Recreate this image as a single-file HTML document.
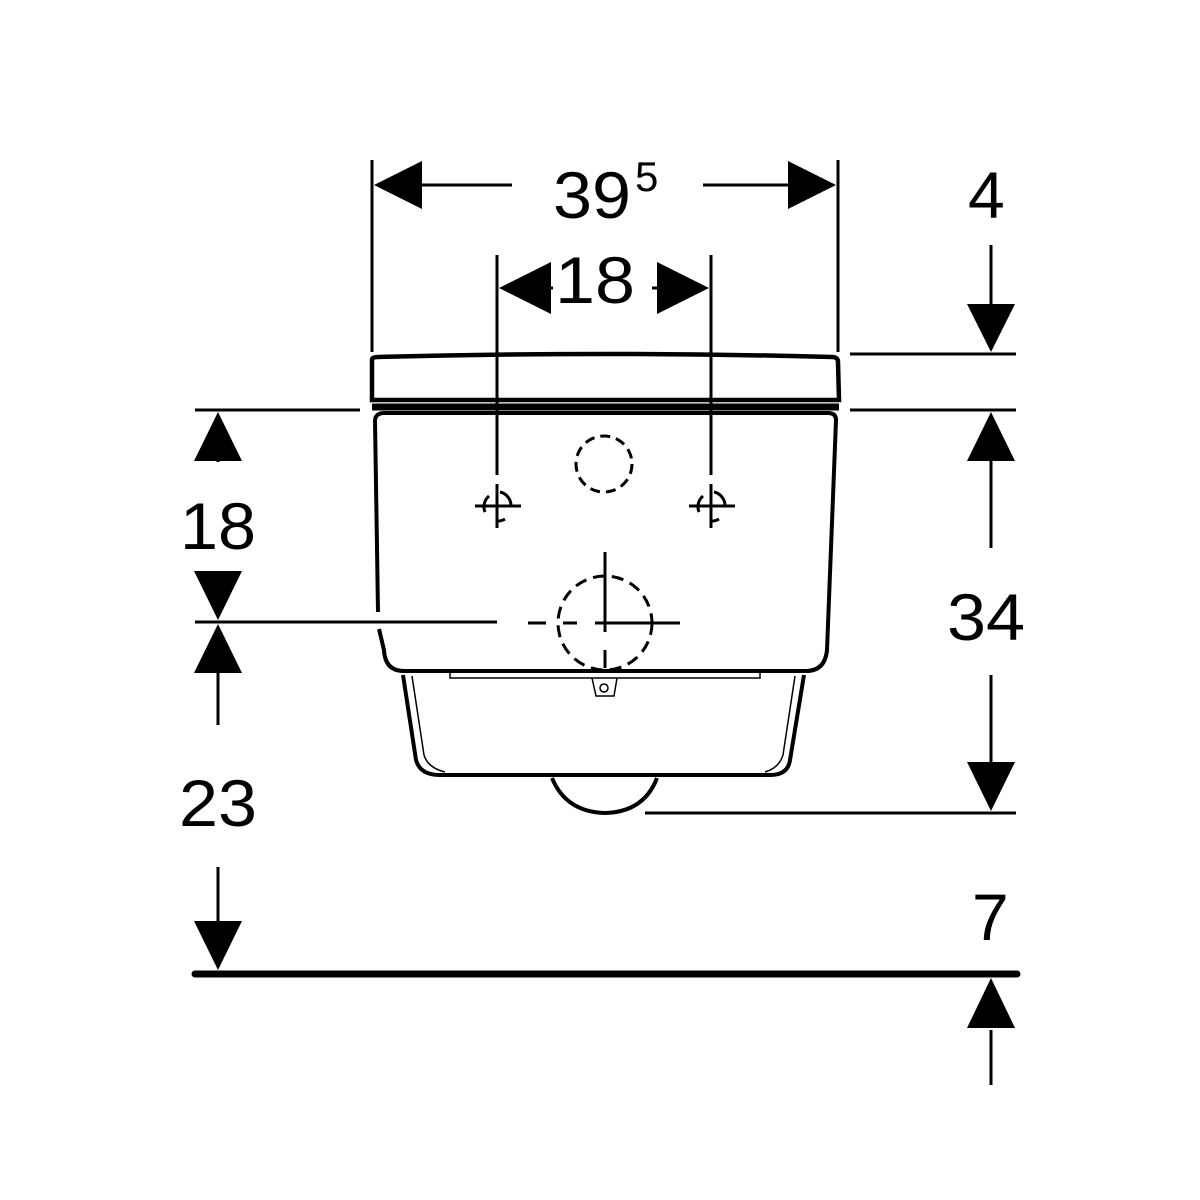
<!DOCTYPE html>
<html><head><meta charset="utf-8"><style>html,body{margin:0;padding:0;background:#fff}svg{display:block}</style></head>
<body>
<svg width="1200" height="1200" viewBox="0 0 1200 1200" xmlns="http://www.w3.org/2000/svg" font-family="Liberation Sans, Arial, sans-serif">
<rect width="1200" height="1200" fill="#fff"/>
<g stroke="#000" fill="none" stroke-width="3">
<line x1="372" y1="160" x2="372" y2="352"/>
<line x1="838" y1="160" x2="838" y2="352"/>
<line x1="497" y1="255" x2="497" y2="475"/>
<line x1="711" y1="255" x2="711" y2="475"/>
<line x1="400" y1="185" x2="512" y2="185"/>
<line x1="703" y1="185" x2="810" y2="185"/>
<line x1="540" y1="288" x2="553" y2="288"/>
<line x1="652" y1="288" x2="662" y2="288"/>
<line x1="850" y1="354" x2="1016" y2="354"/>
<line x1="850" y1="410" x2="1016" y2="410"/>
<line x1="991" y1="245" x2="991" y2="310"/>
<line x1="991" y1="455" x2="991" y2="548"/>
<line x1="991" y1="675" x2="991" y2="770"/>
<line x1="645" y1="813" x2="1016" y2="813"/>
<line x1="991" y1="1030" x2="991" y2="1085"/>
<line x1="195" y1="410" x2="360" y2="410"/>
<line x1="218" y1="455" x2="218" y2="462"/>
<line x1="218" y1="572" x2="218" y2="580"/>
<line x1="195" y1="622" x2="497" y2="622"/>
<line x1="218" y1="665" x2="218" y2="725"/>
<line x1="218" y1="867" x2="218" y2="930"/>
<line x1="528" y1="623" x2="546" y2="623"/>
<line x1="563" y1="623" x2="577" y2="623"/>
<line x1="595" y1="623" x2="680" y2="623"/>
<line x1="605" y1="552" x2="605" y2="632"/>
<line x1="605" y1="650" x2="605" y2="668"/>
<line x1="475" y1="506" x2="521" y2="506"/>
<line x1="497" y1="484" x2="497" y2="528"/>
<line x1="689" y1="506" x2="735" y2="506"/>
<line x1="711" y1="484" x2="711" y2="528"/>
<path d="M500 492 A14 14 0 0 1 511 506 M505 519 A14 14 0 0 1 496 521 M485 512 A14 14 0 0 1 489 496" />
<path d="M714 492 A14 14 0 0 1 725 506 M719 519 A14 14 0 0 1 710 521 M699 512 A14 14 0 0 1 703 496" />
<circle cx="604" cy="464" r="28" stroke-dasharray="10 6"/>
<circle cx="605" cy="623" r="47" stroke-dasharray="12 7"/>
</g>
<line x1="195" y1="974" x2="1017" y2="974" stroke="#000" stroke-width="7" stroke-linecap="round"/>
<g stroke="#000" fill="none">
<path d="M372 360 Q372 357 378 357 Q605 351 832 357 Q838 357 838 362 L839 400 L372 400 Z" stroke-width="4.5"/>
<line x1="372" y1="407" x2="839" y2="407" stroke-width="7"/>
<path d="M375 420 Q376 413 384 413 L828 413 Q836 413 836 420 L827 650 Q825 671 806 671 L404 671 Q385 671 384 650 L379 629 M378 612 L375 420" stroke-width="4"/>
<path d="M403 675 L416 760 Q420 775 440 775 L770 775 Q788 775 790 760 L804 675" stroke-width="4"/>
<path d="M412 676 L424 755 Q428 768 445 772 M795 676 L783 755 Q779 768 765 772" stroke-width="1.5"/>
<path d="M450 673 L450 678 L760 678 L760 673" stroke-width="1.5"/>
<path d="M592 678 L596 696 L614 696 L617 678" stroke-width="1.5"/>
<circle cx="604" cy="688" r="4" stroke-width="1.5"/>
<path d="M552 778 Q566 812 605 813 Q644 812 657 778" stroke-width="4"/>
</g>
<g fill="#000">
<polygon points="374,185 422,161 422,209"/>
<polygon points="836,185 788,161 788,209"/>
<polygon points="499,288 551,262 551,314"/>
<polygon points="709,288 657,262 657,314"/>
<polygon points="991,352 967,304 1015,304"/>
<polygon points="991,412 967,461 1015,461"/>
<polygon points="991,811 967,762 1015,762"/>
<polygon points="991,978 967,1028 1015,1028"/>
<polygon points="218,412 194,461 242,461"/>
<polygon points="218,620 194,571 242,571"/>
<polygon points="218,624 194,673 242,673"/>
<polygon points="218,970 194,921 242,921"/>
</g>
<g font-size="66" fill="#000">
<text x="553" y="218" textLength="78" lengthAdjust="spacingAndGlyphs">39</text>
<text x="635" y="191" font-size="42">5</text>
<text x="555" y="303" textLength="80" lengthAdjust="spacingAndGlyphs">18</text>
<text x="968" y="218">4</text>
<text x="180" y="549" textLength="76" lengthAdjust="spacingAndGlyphs">18</text>
<text x="947" y="640" textLength="78" lengthAdjust="spacingAndGlyphs">34</text>
<text x="179" y="826" textLength="78" lengthAdjust="spacingAndGlyphs">23</text>
<text x="972" y="940">7</text>
</g>
</svg>
</body></html>
